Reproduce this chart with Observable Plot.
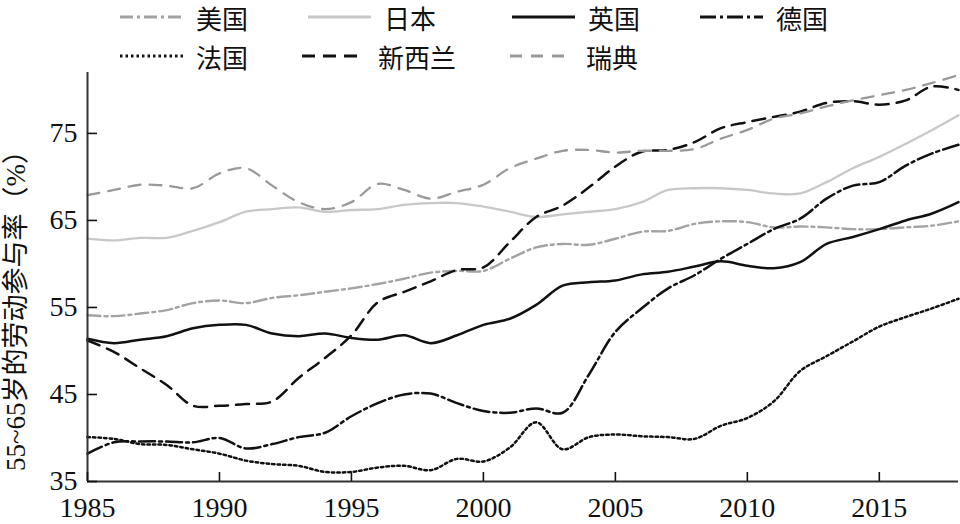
<!DOCTYPE html>
<html><head><meta charset="utf-8">
<script src="https://cdn.jsdelivr.net/npm/d3@7"></script>
<script src="https://cdn.jsdelivr.net/npm/@observablehq/plot@0.6"></script>
<style>
body{margin:0;background:#fff;}
#wrap{width:960px;font-family:"Liberation Serif","Times New Roman","Noto Sans CJK SC",serif;}
#legend{position:relative;height:62px;overflow:visible;}
.item{position:absolute;display:flex;align-items:center;height:30px;font-size:26px;color:#111;white-space:nowrap;}
.item svg{margin-right:13px;}
#chart svg, #chart svg text{font-family:"Liberation Serif","Times New Roman","Noto Sans CJK SC",serif !important;}
</style></head><body>
<div id="wrap"><div id="legend"></div><div id="chart"></div></div>
<script>
const years = [1985,1986,1987,1988,1989,1990,1991,1992,1993,1994,1995,1996,1997,1998,1999,2000,2001,2002,2003,2004,2005,2006,2007,2008,2009,2010,2011,2012,2013,2014,2015,2016,2017,2018];
const usa     = [54.1,54.0,54.3,54.7,55.5,55.8,55.5,56.1,56.4,56.8,57.2,57.7,58.3,59.0,59.2,59.2,60.6,61.9,62.3,62.2,62.9,63.7,63.8,64.6,64.9,64.8,64.2,64.3,64.2,64.0,64.0,64.2,64.4,64.9];
const japan   = [62.9,62.7,63.0,63.0,63.8,64.8,66.0,66.3,66.5,66.0,66.2,66.3,66.8,67.0,67.0,66.6,66.0,65.4,65.7,66.0,66.3,67.1,68.5,68.7,68.7,68.5,68.1,68.1,69.4,71.0,72.3,73.8,75.4,77.1];
const uk      = [51.4,50.9,51.3,51.7,52.6,53.0,53.0,52.0,51.7,52.0,51.5,51.3,51.8,50.9,51.8,53.0,53.7,55.3,57.5,57.9,58.1,58.8,59.1,59.7,60.3,59.8,59.5,60.2,62.3,63.1,64.0,65.0,65.8,67.1];
const germany = [38.2,39.5,39.6,39.6,39.5,40.0,38.8,39.3,40.1,40.6,42.5,44.0,45.0,45.1,44.0,43.1,42.9,43.4,42.9,47.3,52.2,54.9,57.2,58.7,60.6,62.3,64.0,65.2,67.5,69.0,69.4,71.3,72.7,73.7];
const france  = [40.1,39.9,39.3,39.2,38.7,38.2,37.4,37.0,36.8,36.1,36.1,36.6,36.8,36.3,37.6,37.3,38.9,41.8,38.7,40.1,40.4,40.2,40.1,39.9,41.4,42.3,44.2,47.7,49.4,51.1,52.8,53.9,54.9,56.0];
const nz      = [51.2,49.9,48.0,46.1,43.7,43.7,43.9,44.2,46.9,49.2,51.8,55.6,56.8,58.0,59.3,59.6,62.5,65.4,66.7,68.8,71.2,72.9,73.1,74.0,75.6,76.3,76.9,77.5,78.5,78.7,78.3,78.8,80.4,80.0];
const sweden  = [67.9,68.5,69.1,69.0,68.7,70.4,71.0,69.0,67.1,66.3,67.1,69.2,68.5,67.5,68.3,69.1,71.0,72.1,73.0,73.1,72.8,73.0,73.0,73.2,74.4,75.4,76.7,77.3,78.1,78.8,79.4,80.0,80.8,81.7];

const countries = ["美国","日本","英国","德国","法国","新西兰","瑞典"];
const seriesValues = [usa, japan, uk, germany, france, nz, sweden];
const xTicks = [1985,1990,1995,2000,2005,2010,2015];
const yTicks = [35,45,55,65,75];
const yLabel = "55~65岁的劳动参与率（%）";

const strokes = ["#a3a3a3","#c8c8c8","#111","#111","#111","#111","#999"];
const dashes  = ["13,4,3,4", null, null, "16,4,3,4", "2.5,3", "13,8", "12,9"];
const widths  = [2.4,2.3,2.5,2.5,2.5,2.5,2.3];
// legend layout: [left, centerY]
const legendPos = [[120,17],[308,17],[512,17],[700,17],[120,56],[302,56],[510,56]];

const legend = document.getElementById("legend");
countries.forEach((c,k)=>{
  const div = document.createElement("div");
  div.className = "item";
  div.style.left = legendPos[k][0] + "px";
  div.style.top = (legendPos[k][1]-15) + "px";
  div.innerHTML = `<svg width="63" height="10"><line x1="0" y1="5" x2="63" y2="5" stroke="${strokes[k]}" stroke-width="${widths[k]+0.5}" ${dashes[k] ? `stroke-dasharray="${dashes[k]}"` : ""}/></svg><span>${c}</span>`;
  legend.appendChild(div);
});

const rows = years.flatMap((y,i)=> countries.map((c,k)=>({year:y, country:c, value:seriesValues[k][i]})));
const serif = "Liberation Serif";

const chart = Plot.plot({
  width: 960, height: 462,
  marginTop: 10, marginBottom: 43, marginLeft: 87, marginRight: 2,
  style: {fontFamily: "'Liberation Serif', 'Noto Sans CJK SC', serif", fontSize: "27px", color: "#111", background: "#fff", overflow: "visible"},
  x: {domain: [1985, 2018]},
  y: {domain: [35, 82]},
  marks: [
    ...countries.map((c,k)=> Plot.line(rows.filter(r=>r.country===c), {
      x: "year", y: "value", stroke: strokes[k], strokeWidth: widths[k],
      strokeDasharray: dashes[k] || undefined, curve: "catmull-rom"
    })),
    Plot.ruleY([35], {stroke: "#333", strokeWidth: 2}),
    Plot.ruleX([1985], {stroke: "#333", strokeWidth: 2}),
    Plot.axisX(xTicks, {tickSize: -9, tickPadding: 25, tickFormat: d => String(d), fontSize: 28, fontFamily: serif, strokeWidth: 1.6, label: null}),
    Plot.axisY(yTicks, {tickSize: -10, tickPadding: 20, fontSize: 28, fontFamily: serif, strokeWidth: 1.6, label: null}),
    Plot.text([yLabel], {frameAnchor: "left", textAnchor: "middle", lineAnchor: "middle", rotate: -90, dx: -71, dy: 27, fontSize: 27, fill: "#111"})
  ]
});
document.getElementById("chart").appendChild(chart);
</script>
</body></html>
